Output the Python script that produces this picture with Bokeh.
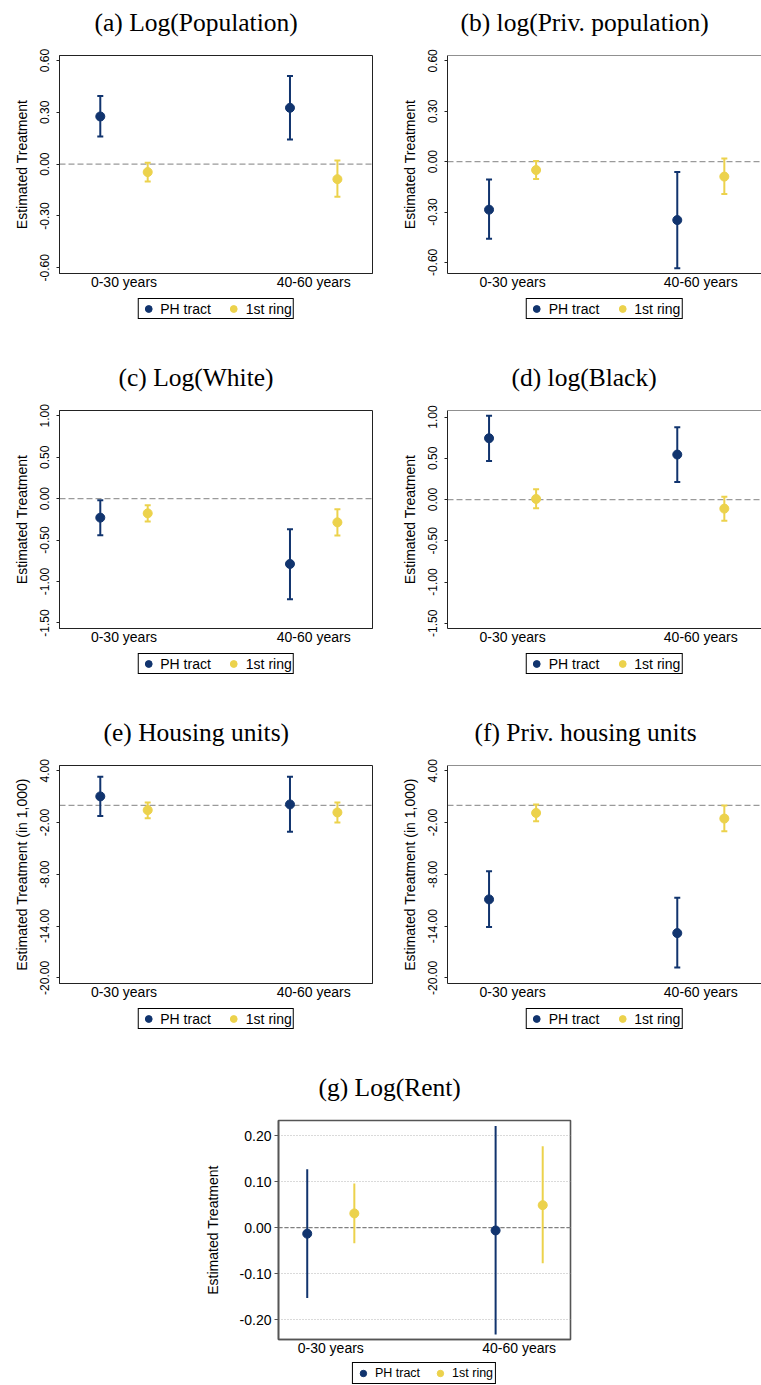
from bokeh.plotting import figure
from bokeh.models import (FixedTicker, Span, Whisker, TeeHead, ColumnDataSource,
                          Legend, LegendItem, Range1d, NumeralTickFormatter)
from bokeh.layouts import column, row
from bokeh.embed import file_html
from bokeh.resources import INLINE

# ---------------- data ----------------
categories = ["0-30 years", "40-60 years"]
series_names = ["PH tract", "1st ring"]

titles = ["(a) Log(Population)", "(b) log(Priv. population)", "(c) Log(White)",
          "(d) log(Black)", "(e) Housing units)", "(f) Priv. housing units", "(g) Log(Rent)"]
ylabels = ["Estimated Treatment"] * 4 + ["Estimated Treatment (in 1,000)"] * 2 + ["Estimated Treatment"]

# (a) Log(Population)
a_ph = [0.276, 0.326]; a_ph_lo = [0.160, 0.143]; a_ph_hi = [0.394, 0.511]
a_rg = [-0.046, -0.087]; a_rg_lo = [-0.100, -0.189]; a_rg_hi = [0.008, 0.021]
# (b) log(Priv. population)
b_ph = [-0.286, -0.348]; b_ph_lo = [-0.459, -0.634]; b_ph_hi = [-0.107, -0.061]
b_rg = [-0.050, -0.089]; b_rg_lo = [-0.103, -0.193]; b_rg_hi = [0.004, 0.018]
# (c) Log(White)
c_ph = [-0.229, -0.788]; c_ph_lo = [-0.442, -1.214]; c_ph_hi = [-0.020, -0.369]
c_rg = [-0.177, -0.286]; c_rg_lo = [-0.277, -0.446]; c_rg_hi = [-0.081, -0.129]
# (d) log(Black)
d_ph = [0.743, 0.545]; d_ph_lo = [0.468, 0.213]; d_ph_hi = [1.014, 0.876]
d_rg = [0.007, -0.110]; d_rg_lo = [-0.107, -0.256]; d_rg_hi = [0.124, 0.035]
# (e) Housing units (in 1,000)
e_ph = [1.03, 0.10]; e_ph_lo = [-1.25, -3.06]; e_ph_hi = [3.31, 3.31]
e_rg = [-0.56, -0.83]; e_rg_lo = [-1.49, -2.00]; e_rg_hi = [0.33, 0.33]
# (f) Priv. housing units (in 1,000)
f_ph = [-10.90, -14.81]; f_ph_lo = [-14.11, -18.79]; f_ph_hi = [-7.65, -10.71]
f_rg = [-0.88, -1.53]; f_rg_lo = [-1.84, -3.00]; f_rg_hi = [0.09, -0.02]
# (g) Log(Rent)
g_ph = [-0.013, -0.006]; g_ph_lo = [-0.153, -0.232]; g_ph_hi = [0.127, 0.221]
g_rg = [0.031, 0.049]; g_rg_lo = [-0.034, -0.077]; g_rg_hi = [0.096, 0.177]

ticks_ab = [-0.6, -0.3, 0.0, 0.3, 0.6]
ticks_cd = [-1.5, -1.0, -0.5, 0.0, 0.5, 1.0]
ticks_ef = [-20.0, -14.0, -8.0, -2.0, 4.0]
ticks_g = [-0.2, -0.1, 0.0, 0.1, 0.2]

NAVY = "#11346e"
GOLD = "#ecd24c"
SANS = "Liberation Sans"
SERIF = "Liberation Serif"

panels = [
    (a_ph, a_ph_lo, a_ph_hi, a_rg, a_rg_lo, a_rg_hi, ticks_ab, (-0.633, 0.629)),
    (b_ph, b_ph_lo, b_ph_hi, b_rg, b_rg_lo, b_rg_hi, ticks_ab, (-0.666, 0.632)),
    (c_ph, c_ph_lo, c_ph_hi, c_rg, c_rg_lo, c_rg_hi, ticks_cd, (-1.567, 1.064)),
    (d_ph, d_ph_lo, d_ph_hi, d_rg, d_rg_lo, d_rg_hi, ticks_cd, (-1.563, 1.079)),
    (e_ph, e_ph_lo, e_ph_hi, e_rg, e_rg_lo, e_rg_hi, ticks_ef, (-20.65, 4.61)),
    (f_ph, f_ph_lo, f_ph_hi, f_rg, f_rg_lo, f_rg_hi, ticks_ef, (-20.65, 4.62)),
    (g_ph, g_ph_lo, g_ph_hi, g_rg, g_rg_lo, g_rg_hi, ticks_g, (-0.243, 0.233)),
]

title_offsets = [35, 13, 59, 64, 44, 27, 40]

group_pos = [1.5, 5.5]
offset = 0.5


def strip(W, H, bl, br, top=0):
    s = figure(width=W, height=H, output_backend="svg", toolbar_location=None,
               x_range=Range1d(0, 1), y_range=Range1d(0, 1),
               x_axis_type=None, y_axis_type=None,
               min_border_left=bl, min_border_right=br, min_border_top=top,
               min_border_bottom=0)
    s.outline_line_color = None
    s.background_fill_color = "white"
    s.border_fill_color = "white"
    return s


def make_panel(i, kind, total_h):
    ph, ph_lo, ph_hi, rg, rg_lo, rg_hi, yt, yr = panels[i]
    if kind == "left":
        W, bl, br = 380, 59, 8
        xr = (0.14, 6.74)
        fh = 218
    elif kind == "right":
        W, bl, br = 381, 67, 0
        xr = (0.117, 6.79)
        fh = 218
    else:
        W, bl, br = 761, 278, 191
        xr = (0.39, 6.59)
        fh = 219

    # ---- title strip ----
    TH = 48
    t = strip(W, TH, bl, br, top=38)
    t.title.text = titles[i]
    t.title.text_font = SERIF
    t.title.text_font_size = "25.5px"
    t.title.text_font_style = "normal"
    t.title.text_color = "black"
    t.title.align = "left"
    t.title.offset = title_offsets[i]
    t.title.standoff = 4

    # ---- main plot ----
    tb = 7
    bb = 22
    H = tb + fh + bb
    p = figure(width=W, height=H, output_backend="svg", toolbar_location=None,
               x_range=Range1d(*xr), y_range=Range1d(*yr),
               min_border_left=bl, min_border_right=br, min_border_top=tb,
               min_border_bottom=bb)
    p.background_fill_color = "white"
    p.border_fill_color = "white"
    p.xgrid.visible = False

    xa = p.xaxis[0]
    xa.ticker = FixedTicker(ticks=group_pos)
    xa.major_label_overrides = {group_pos[k]: categories[k] for k in range(2)}
    xa.major_tick_line_color = None
    xa.minor_tick_line_color = None
    xa.major_tick_out = 0
    xa.major_tick_in = 0
    xa.major_label_text_font = SANS
    xa.major_label_text_font_size = "14px"
    xa.major_label_text_color = "black"
    xa.major_label_standoff = 0

    ya = p.yaxis[0]
    ya.ticker = FixedTicker(ticks=yt)
    ya.formatter = NumeralTickFormatter(format="0.00")
    ya.minor_tick_line_color = None
    ya.major_tick_in = 0
    ya.axis_label = ylabels[i]
    ya.axis_label_text_font = SANS
    ya.axis_label_text_font_style = "normal"
    ya.axis_label_text_color = "black"
    ya.axis_label_text_font_size = "14px"
    ya.major_label_text_font = SANS
    ya.major_label_text_color = "black"

    if kind == "bottom":
        p.ygrid.ticker = FixedTicker(ticks=yt)
        p.ygrid.grid_line_color = "#b5b5b5"
        p.ygrid.grid_line_dash = "1 2"
        p.ygrid.grid_line_width = 1
        ya.major_label_text_font_size = "14px"
        ya.major_tick_out = 4
        ya.major_label_standoff = 3
        ya.axis_label_standoff = 16
        ya.axis_line_color = "#555555"
        ya.axis_line_width = 1.6
        ya.major_tick_line_color = "#555555"
        xa.axis_line_color = "#555555"
        xa.axis_line_width = 1.6
        p.outline_line_color = "#555555"
        p.outline_line_width = 1.6
        zero_color, zero_dash = "#808080", "4 2"
    else:
        p.ygrid.visible = False
        ya.major_label_orientation = "vertical"
        ya.major_label_text_font_size = "12px"
        ya.major_tick_out = 3
        ya.major_label_standoff = 7
        ya.axis_label_standoff = 8
        ya.axis_line_color = "#222222"
        ya.major_tick_line_color = "#222222"
        xa.axis_line_color = "#222222"
        zero_color, zero_dash = "#9a9a9a", "6 3"
        if kind == "right":
            p.outline_line_color = None
            p.add_layout(Span(location=yr[1], dimension="width", line_color="#222222",
                              line_width=1))
        else:
            p.outline_line_color = "#222222"
            p.outline_line_width = 1

    p.add_layout(Span(location=0, dimension="width", line_color=zero_color,
                      line_dash=zero_dash, line_width=1.2, level="underlay"))

    for vals, lo, hi, sign, col in [(ph, ph_lo, ph_hi, -1, NAVY), (rg, rg_lo, rg_hi, 1, GOLD)]:
        src = ColumnDataSource(dict(x=[g + sign * offset for g in group_pos],
                                    y=vals, lo=lo, hi=hi))
        if kind == "bottom":
            p.segment(x0="x", y0="lo", x1="x", y1="hi", source=src,
                      line_color=col, line_width=2)
        else:
            w = Whisker(base="x", lower="lo", upper="hi", source=src,
                        line_color=col, line_width=2,
                        upper_head=TeeHead(size=6, line_color=col, line_width=2),
                        lower_head=TeeHead(size=6, line_color=col, line_width=2))
            p.add_layout(w)
        p.scatter("x", "y", source=src, size=9, marker="circle",
                  fill_color=col, line_color=col)

    # ---- legend strip (below the x-axis labels) ----
    LH = total_h - TH - H
    q = strip(W, LH, bl, br)
    keys = []
    for col in [NAVY, GOLD]:
        # legend-key proxies only (no visible position)
        keys.append(q.scatter(x=[float("nan")], y=[float("nan")], size=9, marker="circle",
                              fill_color=col, line_color=col))
    small = kind == "bottom"
    legend = Legend(items=[LegendItem(label=series_names[0], renderers=[keys[0]]),
                           LegendItem(label=series_names[1], renderers=[keys[1]])],
                    orientation="horizontal", location="top_center",
                    border_line_color="black", border_line_width=1, border_line_alpha=1,
                    padding=2 if small else 1,
                    spacing=12 if small else 14, label_standoff=4,
                    glyph_width=16 if small else 17, glyph_height=16 if small else 17,
                    label_height=16 if small else 17,
                    label_text_font=SANS, label_text_font_size="12.5px" if small else "14px",
                    label_text_color="black",
                    margin=1 if small else 3, background_fill_color="white",
                    background_fill_alpha=1)
    q.add_layout(legend)
    return column(t, p, q)


pa = make_panel(0, "left", 355)
pb = make_panel(1, "right", 355)
pc = make_panel(2, "left", 355)
pd = make_panel(3, "right", 355)
pe = make_panel(4, "left", 355)
pf = make_panel(5, "right", 355)
pg = make_panel(6, "bottom", 320)

layout = column(row(pa, pb), row(pc, pd), row(pe, pf), pg)
open("out.html", "w").write(file_html(layout, INLINE))
